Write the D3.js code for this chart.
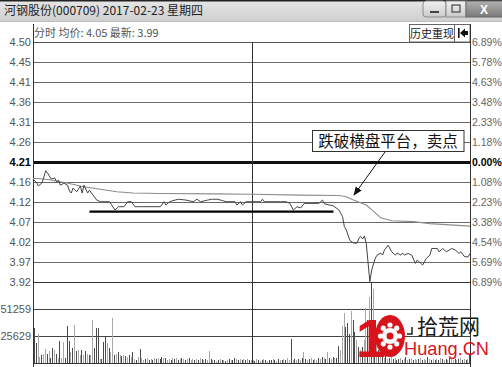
<!DOCTYPE html>
<html><head><meta charset="utf-8">
<script src="https://cdn.jsdelivr.net/npm/d3@7"></script>
<style>html,body{margin:0;padding:0;background:#fff;overflow:hidden}svg{display:block}</style>
</head><body><svg id="c" width="502" height="367"></svg>
<script>
// ---------------- data ----------------
const titleText = "河钢股份(000709) 2017-02-23 星期四";
const subtitleText = "分时 均价: 4.05 最新: 3.99";
const buttonText = "历史重现";
const prevClose = 4.21;
const priceMin = 3.92, priceMax = 4.50;
const priceTickLabels = ["4.50","4.45","4.41","4.36","4.31","4.26","4.21","4.16","4.12","4.07","4.02","3.97","3.92"];
const pctTickLabels = ["6.89%","5.78%","4.63%","3.48%","2.33%","1.18%","0.00%","1.08%","2.23%","3.38%","4.54%","5.69%","6.89%"];
const volTickValues = [51259, 25629];
const volMax = 76888;

// price line (minute index, price)
const priceMinutes = [0,2,3,5,7,8,10,12,13,14,15,17,19,20,21,22,24,26,27,28,30,31,33,35,37,42,45,47,50,52,54,56,58,60,62,70,72,73,75,78,80,84,88,90,92,96,98,101,104,106,111,112,114,115,117,120,125,126,127,136,139,141,143,145,147,149,157,159,160,165,168,170,171,172,174,176,178,179,180,181,182,183,185,186,188,189,191,192,193,195,197,199,200,202,203,204,206,208,210,211,213,214,216,218,219,222,223,225,227,230,232,234,235,237,239,240];
const priceValues  = [4.169,4.160,4.152,4.160,4.189,4.183,4.169,4.171,4.162,4.166,4.154,4.159,4.154,4.140,4.135,4.147,4.138,4.152,4.135,4.154,4.135,4.142,4.130,4.118,4.114,4.114,4.094,4.102,4.102,4.114,4.114,4.102,4.102,4.102,4.102,4.102,4.114,4.106,4.114,4.118,4.120,4.118,4.114,4.120,4.114,4.118,4.120,4.120,4.117,4.114,4.114,4.106,4.114,4.106,4.114,4.114,4.114,4.120,4.114,4.114,4.114,4.110,4.094,4.102,4.099,4.110,4.110,4.118,4.109,4.104,4.094,4.078,4.054,4.046,4.021,4.014,4.014,4.026,4.030,4.024,4.031,4.014,3.921,3.949,3.978,3.985,3.990,3.985,3.997,4.009,3.993,3.985,3.990,3.985,3.990,3.985,3.989,3.985,3.965,3.973,3.965,3.961,3.977,3.985,4.001,4.001,3.993,4.001,3.993,4.001,3.997,3.989,3.993,3.981,3.981,3.989];

// average price line (minute index, price)
const avgMinutes = [0,3,9,18,28,37,46,55,70,100,120,147,168,172,176,183,186,189,191,197,209,218,240];
const avgValues  = [4.170,4.170,4.167,4.160,4.150,4.144,4.138,4.135,4.134,4.133,4.132,4.130,4.129,4.126,4.118,4.106,4.095,4.083,4.075,4.068,4.066,4.061,4.055];

// volume per minute (thousand shares), 240 bars
const volumes = [
33,19,28,6,8,9,13,9,11,5, 14,12,9,5,21,5,20,5,35,21, 10,14,36,11,12,8,12,8,11,9, 8,8,41,14,33,33,4,4,20,25,
19,14,10,43,8,9,10,8,7,8, 7,6,8,6,10,4,3,6,13,5, 3,4,5,3,4,3,5,4,5,4, 6,5,5,3,4,3,5,4,5,3,
4,5,4,3,4,5,3,4,3,4, 3,5,4,3,4,3,11,4,3,3, 2,3,4,3,3,2,3,4,3,3, 5,4,3,4,3,4,3,4,3,3,
3,2,4,3,2,3,4,3,2,3, 3,4,3,2,4,3,3,4,3,5, 3,23,3,4,3,4,3,5,10,4, 3,4,5,3,4,3,5,4,6,5,
4,10,5,4,6,5,5,16,12,35, 47,34,38,28,49,41,29,22,15,12, 15,22,52,41,63,80,70,30,20,12, 8,6,5,7,4,5,6,4,5,3,
4,5,3,4,6,3,4,5,3,4, 3,4,5,3,4,3,6,4,3,4, 3,4,3,5,4,3,4,3,5,4, 3,4,3,4,5,3,4,3,4,8];
// bar tone per minute: d = dark, l = light
const volumeTone =
"ddlldlldld"+"dldldllddd"+"ldldlldldl"+"dlldddlddd"+"ldlldldldl"+"dldldldldl"+
"ldldldldld"+"dldlldldld"+"ldldldlldl"+"dldldlldld"+"ldldldldld"+"dldldldldl"+
"ldldldldld"+"dldldldldl"+"ldldldldld"+"ldldlldldl"+"dldldlddll"+"ldddlddldl"+
"dlldldldld"+"ldldldldld"+"dldldldldl"+"ldldlldldl"+"dldldldldl"+"ldldldldld";

const supportPrice = 4.090, supportFrom = 31, supportTo = 165;
const annotationText = "跌破横盘平台，卖点";
const logoCn = "拾荒网", logoEn = "Huang.CN";

// ---------------- layout ----------------
const svg = d3.select("#c");
const L = 33, R = 470, T = 42, PB = 282, VB = 363;
const x = d3.scaleLinear().domain([0, 240]).range([L, R]);
const y = d3.scaleLinear().domain([priceMin, priceMax]).range([PB, T]);
const yv = d3.scaleLinear().domain([0, volMax]).range([VB, PB]);
const NUM = "'Liberation Sans', Arial, sans-serif";
const CJK = "'Noto Sans CJK SC', 'Liberation Sans', sans-serif";

svg.append("rect").attr("width", 502).attr("height", 367).attr("fill", "#fff");

// title bar
const defs = svg.append("defs");
const g1 = defs.append("linearGradient").attr("id", "tb").attr("x1", 0).attr("y1", 0).attr("x2", 0).attr("y2", 1);
g1.append("stop").attr("offset", "0").attr("stop-color", "#e6e6e6");
g1.append("stop").attr("offset", "1").attr("stop-color", "#cfcfcf");
svg.append("rect").attr("x", 0).attr("y", 0).attr("width", 502).attr("height", 21).attr("fill", "url(#tb)");
svg.append("rect").attr("x", 0).attr("y", 0).attr("width", 502).attr("height", 1.5).attr("fill", "#222");
svg.append("line").attr("x1", 0).attr("x2", 502).attr("y1", 21.5).attr("y2", 21.5).attr("stroke", "#bdbdbd");
svg.append("text").attr("x", 4).attr("y", 15).attr("font-family", CJK).attr("font-size", 12)
  .attr("fill", "#222").text(titleText);

// window buttons
const gb = defs.append("linearGradient").attr("id", "bt").attr("x1", 0).attr("y1", 0).attr("x2", 0).attr("y2", 1);
gb.append("stop").attr("offset", "0").attr("stop-color", "#f2f2f2");
gb.append("stop").attr("offset", "1").attr("stop-color", "#cacaca");
const gc = defs.append("linearGradient").attr("id", "cl").attr("x1", 0).attr("y1", 0).attr("x2", 0).attr("y2", 1);
gc.append("stop").attr("offset", "0").attr("stop-color", "#b0b0b0");
gc.append("stop").attr("offset", "1").attr("stop-color", "#7a7a7a");
svg.append("rect").attr("x", 423).attr("y", 1).attr("width", 23).attr("height", 16).attr("rx", 3)
  .attr("fill", "url(#bt)").attr("stroke", "#8a8a8a");
svg.append("rect").attr("x", 430).attr("y", 11).attr("width", 9).attr("height", 2).attr("fill", "#444");
svg.append("rect").attr("x", 446).attr("y", 1).attr("width", 20).attr("height", 16)
  .attr("fill", "url(#bt)").attr("stroke", "#8a8a8a");
svg.append("rect").attr("x", 452).attr("y", 5).attr("width", 8).attr("height", 7).attr("fill", "none")
  .attr("stroke", "#444").attr("stroke-width", 1.2);
svg.append("rect").attr("x", 466).attr("y", 1).attr("width", 38).attr("height", 16)
  .attr("fill", "url(#cl)").attr("stroke", "#6a6a6a");
svg.append("text").attr("x", 484).attr("y", 13.5).attr("text-anchor", "middle").attr("font-family", NUM)
  .attr("font-weight", "bold").attr("font-size", 12).attr("fill", "#fff").text("X");

// sub header
svg.append("text").attr("x", 34).attr("y", 37).attr("font-family", CJK).attr("font-size", 11)
  .attr("fill", "#555").text(subtitleText);
svg.append("rect").attr("x", 409.5).attr("y", 24.5).attr("width", 45).attr("height", 17.5)
  .attr("fill", "#fff").attr("stroke", "#666");
svg.append("text").attr("x", 432).attr("y", 37.5).attr("text-anchor", "middle").attr("font-family", CJK)
  .attr("font-size", 11).attr("fill", "#222").text(buttonText);
svg.append("rect").attr("x", 454.5).attr("y", 24.5).attr("width", 15.5).attr("height", 17.5)
  .attr("fill", "#fff").attr("stroke", "#666");
svg.append("rect").attr("x", 458).attr("y", 28).attr("width", 1.6).attr("height", 10).attr("fill", "#111");
svg.append("path").attr("d", "M460,33 L465,28.5 L465,31 L468,31 L468,35 L465,35 L465,37.5 Z").attr("fill", "#111");

// grid
const n = priceTickLabels.length - 1;
const tickVals = d3.range(n + 1).map(i => priceMax - i * (priceMax - priceMin) / n);
const grid = svg.append("g").attr("shape-rendering", "crispEdges");
tickVals.forEach((v, i) => {
  if (i === 0) return;
  const isMid = Math.abs(v - prevClose) < 1e-6;
  const yy = Math.round(y(v)) + 0.5;
  grid.append("line").attr("x1", L).attr("x2", R).attr("y1", yy).attr("y2", yy)
    .attr("stroke", isMid ? "#111" : (i === n ? "#333" : "#6a6a6a"))
    .attr("stroke-width", isMid ? 2.5 : 1);
});
volTickValues.forEach(v => {
  const yy = Math.round(yv(v)) + 0.5;
  grid.append("line").attr("x1", L).attr("x2", R).attr("y1", yy).attr("y2", yy).attr("stroke", "#444");
});
grid.append("line").attr("x1", L).attr("x2", R).attr("y1", T + 0.5).attr("y2", T + 0.5).attr("stroke", "#555");
grid.append("line").attr("x1", L).attr("x2", R).attr("y1", VB + 0.5).attr("y2", VB + 0.5).attr("stroke", "#333").attr("stroke-width", 1.5);
grid.append("line").attr("x1", Math.round(x(120)) + 0.5).attr("x2", Math.round(x(120)) + 0.5)
  .attr("y1", T).attr("y2", VB).attr("stroke", "#333").attr("stroke-width", 1.5);
grid.append("line").attr("x1", L + 0.5).attr("x2", L + 0.5).attr("y1", 24).attr("y2", 367).attr("stroke", "#333");
grid.append("line").attr("x1", R + 0.5).attr("x2", R + 0.5).attr("y1", 24).attr("y2", 367).attr("stroke", "#333");

// volume bars
const bars = svg.append("g").attr("shape-rendering", "crispEdges");
volumes.forEach((v, i) => {
  const val = Math.min(v * 1000, volMax);
  const xx = Math.round(x(i)) + 1;
  bars.append("rect").attr("x", xx).attr("width", 1)
    .attr("y", yv(val)).attr("height", VB - yv(val))
    .attr("fill", volumeTone[i] === "d" ? "#4a4a4a" : "#a8a8a8");
});

// lines
const avgData = avgMinutes.map((m, i) => [m, avgValues[i]]);
const priceData = priceMinutes.map((m, i) => [m, priceValues[i]]);
const line = d3.line().x(d => x(d[0])).y(d => y(d[1]));
svg.append("path").attr("d", line(avgData)).attr("fill", "none").attr("stroke", "#8c8c8c").attr("stroke-width", 1.1);
svg.append("path").attr("d", line(priceData)).attr("fill", "none").attr("stroke", "#444").attr("stroke-width", 1);

// support line
svg.append("line").attr("x1", x(supportFrom)).attr("x2", x(supportTo))
  .attr("y1", y(supportPrice)).attr("y2", y(supportPrice)).attr("stroke", "#000").attr("stroke-width", 2.2);

// annotation
svg.append("rect").attr("x", 312.5).attr("y", 130.5).attr("width", 151.5).attr("height", 21)
  .attr("fill", "#fff").attr("stroke", "#333");
svg.append("text").attr("x", 388).attr("y", 146.5).attr("text-anchor", "middle").attr("font-family", CJK)
  .attr("font-size", 15.5).attr("fill", "#111").text(annotationText);
defs.append("marker").attr("id", "ah").attr("viewBox", "0 0 10 10").attr("refX", 9).attr("refY", 5)
  .attr("markerWidth", 9).attr("markerHeight", 9).attr("orient", "auto").attr("markerUnits", "userSpaceOnUse")
  .append("path").attr("d", "M0,1 L10,5 L0,9 Z").attr("fill", "#111");
svg.append("line").attr("x1", 385).attr("y1", 152).attr("x2", 354).attr("y2", 195)
  .attr("stroke", "#111").attr("stroke-width", 1).attr("marker-end", "url(#ah)");

// axis labels
const labels = svg.append("g").attr("font-family", NUM).attr("font-size", 11);
tickVals.forEach((v, i) => {
  const isMid = Math.abs(v - prevClose) < 1e-6;
  labels.append("text").attr("x", 31).attr("y", y(v) + 4).attr("text-anchor", "end")
    .attr("fill", isMid ? "#000" : "#555").attr("font-weight", isMid ? "bold" : "normal")
    .text(priceTickLabels[i]);
  labels.append("text").attr("x", 472).attr("y", y(v) + 4).attr("font-size", 10.5)
    .attr("fill", isMid ? "#000" : "#666").attr("font-weight", isMid ? "bold" : "normal")
    .text(pctTickLabels[i]);
});
volTickValues.forEach(v => {
  labels.append("text").attr("x", 31).attr("y", yv(v) + 4).attr("text-anchor", "end")
    .attr("fill", "#555").text(v);
});

// watermark logo
const logo = svg.append("g");
const red = "#d7141c";
logo.append("text").attr("x", 356).attr("y", 357).attr("font-family", NUM).attr("font-weight", "bold")
  .attr("font-size", 54).attr("fill", red).text("1");
logo.append("ellipse").attr("cx", 390).attr("cy", 336).attr("rx", 15).attr("ry", 21).attr("fill", red);
d3.range(8).forEach(k => {
  const a = k * Math.PI / 4;
  logo.append("circle").attr("cx", 390 + Math.cos(a) * 9.5).attr("cy", 336 + Math.sin(a) * 11)
    .attr("r", 2.6).attr("fill", "#fff");
});
logo.append("circle").attr("cx", 390).attr("cy", 336).attr("r", 8).attr("fill", "#fff");
logo.append("circle").attr("cx", 390).attr("cy", 336).attr("r", 3.5).attr("fill", red);
logo.append("path").attr("d", "M407,334 L412,334 L412,327").attr("fill", "none").attr("stroke", "#222").attr("stroke-width", 1.5);
logo.append("text").attr("x", 417).attr("y", 334).attr("font-family", CJK).attr("font-size", 21)
  .attr("fill", "#1a1a1a").text(logoCn);
logo.append("text").attr("x", 404).attr("y", 355).attr("font-family", NUM).attr("font-size", 19)
  .attr("fill", red).attr("textLength", 85).attr("lengthAdjust", "spacingAndGlyphs").text(logoEn);
</script></body></html>
